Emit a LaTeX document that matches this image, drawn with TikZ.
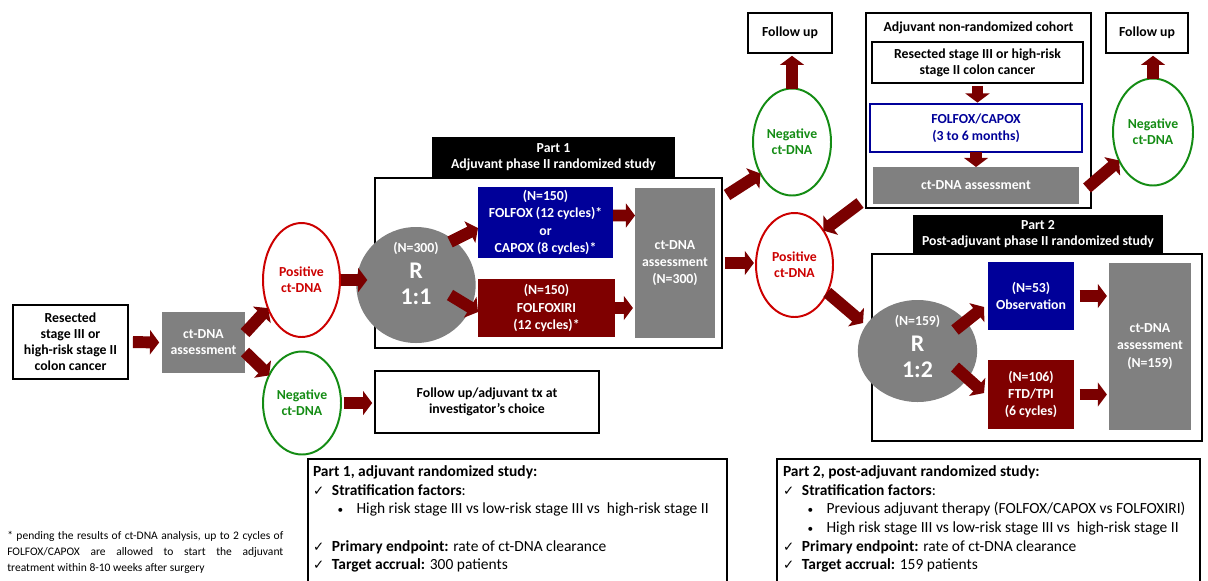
\documentclass[tikz,border=0pt]{standalone}
\usepackage{fontspec}
\setmainfont{Carlito}
\newfontfamily\chkfont{DejaVu Sans}
\usetikzlibrary{arrows.meta,shapes.geometric}

\definecolor{boxgrey}{RGB}{128,128,128}
\definecolor{deepblue}{RGB}{0,0,153}
\definecolor{deepred}{RGB}{127,0,0}
\definecolor{arrowred}{RGB}{122,0,0}
\definecolor{posred}{RGB}{204,0,0}
\definecolor{neggreen}{RGB}{20,140,20}

\newcommand{\chk}{\makebox[13.5pt][l]{{\chkfont\fontsize{9.5}{9}\selectfont ✓}}}
\newcommand{\bul}{\hspace*{17.5pt}\makebox[13.5pt][l]{{\fontsize{8}{9}\selectfont\textbullet}}}
\newcommand{\rlabel}[3]{\raisebox{#3}[0pt][0pt]{\parbox{60pt}{\centering\fontsize{17}{18.5}\selectfont\bfseries{\fontsize{9.8}{11}\selectfont(#1)}\\R\\#2}}}

\tikzset{
  sz/.style 2 args={minimum width=#1*0.025cm, minimum height=#2*0.025cm},
  txtbase/.style={inner sep=0pt, outer sep=0pt, align=center, font=\fontsize{9.8}{11.4}\selectfont\bfseries},
  boxline/.style={txtbase, draw, line width=1.4pt},
  greybox/.style={txtbase, fill=boxgrey, text=white},
  bluebox/.style={txtbase, fill=deepblue, text=white},
  redbox/.style={txtbase, fill=deepred, text=white},
  headbox/.style={txtbase, fill=black, text=white},
  posnode/.style={txtbase, ellipse, draw=posred, line width=1.4pt, text=posred},
  negnode/.style={txtbase, ellipse, draw=neggreen, line width=1.4pt, text=neggreen},
  rnode/.style={txtbase, ellipse, fill=boxgrey, text=white},
  bigarrow/.style={draw=arrowred, line width=8.5pt, -{Triangle[length=6.5pt,width=17pt]}},
  infotext/.style={inner sep=0pt, outer sep=0pt, anchor=north west, align=left, font=\fontsize{11}{13.2}\selectfont},
}

\begin{document}
\begin{tikzpicture}[x=0.025cm, y=-0.025cm]
\useasboundingbox (0,0) rectangle (1208,580);

% screening
\node[boxline, sz={115}{74}] (res) at (70.5,342) {Resected\\stage III or\\high-risk stage II\\colon cancer};
\node[greybox, sz={83}{61}] (assess0) at (203.5,342.5) {ct-DNA\\assessment};
\node[posnode, sz={77}{114}] (pos1) at (301.5,280) {Positive\\ct-DNA};
\node[negnode, sz={78}{103}] (neg1) at (302,403) {Negative\\ct-DNA};
\node[boxline, sz={224}{62}] (fu1) at (487,402) {Follow up/adjuvant tx at\\investigator’s choice};

% part 1
\node[headbox, sz={243}{40}] (p1head) at (553.5,157) {Part 1\\Adjuvant phase II randomized study};
\node[boxline, sz={347}{170}] (p1box) at (548.5,263) {};
\node[rnode, sz={77}{116}] (r1) at (416,285) {\rlabel{N=300}{1:1}{6pt}};
\node[bluebox, sz={135}{71}, font=\fontsize{9.8}{12.3}\selectfont\bfseries] (blue1) at (545.5,222.5) {(N=150)\\FOLFOX (12 cycles)*\\or\\CAPOX (8 cycles)*};
\node[redbox, sz={137}{58}, font=\fontsize{9.8}{12.3}\selectfont\bfseries] (red1) at (546.5,308) {(N=150)\\FOLFOXIRI\\(12 cycles)*};
\node[greybox, sz={80}{150}, font=\fontsize{9.8}{12.3}\selectfont\bfseries] (assess1) at (675,263) {ct-DNA\\assessment\\(N=300)};

% after part 1
\node[posnode, sz={77}{104}] (pos2) at (794.5,265) {Positive\\ct-DNA};
\node[negnode, sz={78}{107}] (neg2) at (792,142) {Negative\\ct-DNA};
\node[boxline, sz={84}{40}] (fuA) at (790,33) {Follow up};

% non-randomized cohort
\node[boxline, sz={225}{195}] (cohort) at (978.5,110.5) {};
\node[txtbase] (cohorttitle) at (978.5,28) {Adjuvant non-randomized cohort};
\node[boxline, sz={211}{41}] (resB) at (977.5,62.5) {Resected stage III or high-risk\\stage II colon cancer};
\node[txtbase, draw=deepblue, line width=1.4pt, text=deepblue, sz={212}{48}, font=\fontsize{9.8}{12.3}\selectfont\bfseries] (fobox) at (976,128) {FOLFOX/CAPOX\\(3 to 6 months)};
\node[greybox, sz={206}{37}] (assessB) at (976,185.5) {ct-DNA assessment};
\node[boxline, sz={82}{40}] (fuB) at (1147,33) {Follow up};
\node[negnode, sz={80}{107}] (neg3) at (1153,132) {Negative\\ct-DNA};

% part 2
\node[headbox, sz={250}{39}] (p2head) at (1038,234.5) {Part 2\\Post-adjuvant phase II randomized study};
\node[boxline, sz={330}{187}] (p2box) at (1037,347.5) {};
\node[rnode, sz={79}{102}] (r2) at (917.5,351) {\rlabel{N=159}{1:2}{1pt}};
\node[bluebox, sz={86}{68}, font=\fontsize{9.8}{12.3}\selectfont\bfseries] (blue2) at (1031,296) {(N=53)\\Observation};
\node[redbox, sz={86}{69}, font=\fontsize{9.8}{12.3}\selectfont\bfseries] (red2) at (1031,394.5) {(N=106)\\FTD/TPI\\(6 cycles)};
\node[greybox, sz={82}{167}, font=\fontsize{9.8}{12.3}\selectfont\bfseries] (assess2) at (1150,346.5) {ct-DNA\\assessment\\(N=159)};

% arrows
\draw[bigarrow, shorten <=3.5pt, shorten >=2pt] (res.east) -- (assess0.west);
\draw[bigarrow] ([shift={(0,-9.5)}]assess0.east) -- (pos1.220);
\draw[bigarrow] ([shift={(0,9.5)}]assess0.east) -- (neg1.140);
\draw[bigarrow, shorten <=1pt, shorten >=5.5pt] (pos1.east) -- (pos1.east -| p1box.west);
\draw[bigarrow, shorten <=2pt, shorten >=2pt] (neg1.east) -- (neg1.east -| fu1.west);
\draw[bigarrow] ([shift={(34,-43)}]r1.center) -- ([shift={(0,5.5)}]blue1.west);
\draw[bigarrow] ([shift={(34,10)}]r1.center) -- ([shift={(0,4)}]red1.west);
\draw[bigarrow] ([shift={(0,-7)}]blue1.east) -- ([shift={(0,-47.5)}]assess1.west);
\draw[bigarrow, shorten >=1.5pt] (red1.east) -- (red1.east -| assess1.west);
\draw[bigarrow, shorten <=2pt, shorten >=1.5pt] (p1box.east) -- (p1box.east -| pos2.west);
\draw[bigarrow] ([shift={(5,17)}]p1box.north east) -- (neg2.225);
\draw[bigarrow] ([shift={(-6,-5)}]cohort.south west) -- (pos2.50);
\draw[bigarrow] (pos2.-40) -- ([shift={(-9,-24.5)}]p2box.west);
\draw[bigarrow, shorten >=2pt] (neg2.north) -- (neg2.north |- fuA.south);
\draw[bigarrow, shorten <=2pt, shorten >=1pt] (resB.south) -- (resB.south |- fobox.north);
\draw[bigarrow] (fobox.south) -- (fobox.south |- assessB.north);
\draw[bigarrow] ([shift={(8,2.5)}]assessB.east) -- (neg3.220);
\draw[bigarrow, shorten >=2pt] (neg3.north) -- (neg3.north |- fuB.south);
\draw[bigarrow] ([shift={(37.5,-21)}]r2.center) -- ([shift={(-4,11)}]blue2.west);
\draw[bigarrow] ([shift={(37.5,16)}]r2.center) -- ([shift={(-4,-1.5)}]red2.west);
\draw[bigarrow, shorten <=4pt, shorten >=1.5pt] (blue2.east) -- (blue2.east -| assess2.west);
\draw[bigarrow, shorten <=4pt, shorten >=1.5pt] (red2.east) -- (red2.east -| assess2.west);

% study summaries
\node[boxline, anchor=north west, sz={419}{140}] (info1) at (308,459) {};
\node[infotext] (info1txt) at (313,466) {\textbf{Part 1, adjuvant randomized study:}\\
\chk\textbf{Stratification factors}:\\
\bul High risk stage III vs low-risk stage III vs\ \ high-risk stage II\\
\mbox{}\\
\chk\textbf{Primary endpoint:} rate of ct-DNA clearance\\
\chk\textbf{Target accrual:} 300 patients};
\node[boxline, anchor=north west, sz={423}{140}] (info2) at (777,459) {};
\node[infotext] (info2txt) at (783,466) {\textbf{Part 2, post-adjuvant randomized study:}\\
\chk\textbf{Stratification factors}:\\
\bul Previous adjuvant therapy (FOLFOX/CAPOX vs FOLFOXIRI)\\
\bul High risk stage III vs low-risk stage III vs\ \ high-risk stage II\\
\chk\textbf{Primary endpoint:} rate of ct-DNA clearance\\
\chk\textbf{Target accrual:} 159 patients};

% footnote
\node[inner sep=0pt, anchor=north west, text width=6.9cm, align=justify, font=\fontsize{8.2}{11.4}\selectfont] (note) at (7,531) {* pending the results of ct-DNA analysis, up to 2 cycles of\linebreak FOLFOX/CAPOX are allowed to start the adjuvant\linebreak treatment within 8-10 weeks after surgery};
\end{tikzpicture}
\end{document}
